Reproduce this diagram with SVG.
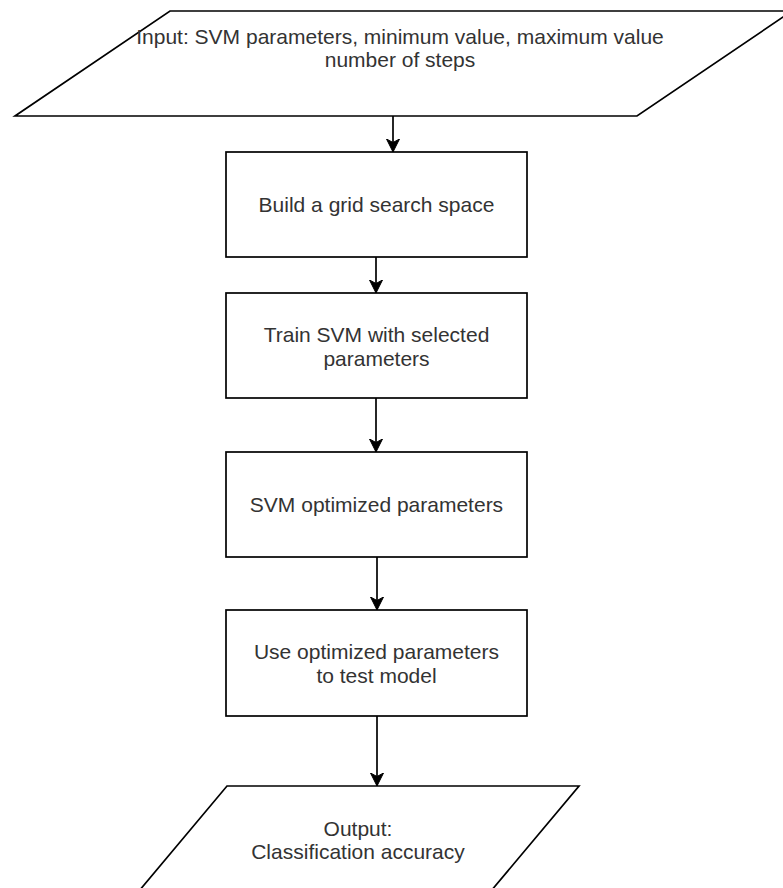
<svg xmlns="http://www.w3.org/2000/svg" width="783" height="888" viewBox="0 0 783 888">
  <style>
    .shape { fill: #ffffff; stroke: #000000; stroke-width: 1.7; }
    .label { font-family: "Liberation Sans", Arial, Helvetica, sans-serif; font-size: 21px; fill: #333333; text-anchor: middle; }
    .edge { fill: none; stroke: #000000; stroke-width: 1.7; }
  </style>
  <defs>
    <marker id="arrow" viewBox="0 0 14 14" refX="13" refY="7" markerWidth="14" markerHeight="14" markerUnits="userSpaceOnUse" orient="auto">
      <path d="M13,7 L0,0.5 L3.5,7 L0,13.5 Z" fill="#000000" stroke="#000000" stroke-width="1"/>
    </marker>
  </defs>
  <rect width="783" height="888" fill="#ffffff"/>

  <g id="input">
    <polygon class="shape" points="170,11 792,11 637,116 15,116"/>
    <text class="label" x="400" y="44">Input: SVM parameters, minimum value, maximum value</text>
    <text class="label" x="400" y="67">number of steps</text>
  </g>

  <g id="build-grid">
    <rect class="shape" x="226" y="152" width="301" height="105"/>
    <text class="label" x="376.5" y="212">Build a grid search space</text>
  </g>

  <g id="train-svm">
    <rect class="shape" x="226" y="293" width="301" height="105"/>
    <text class="label" x="376.5" y="341.5">Train SVM with selected</text>
    <text class="label" x="376.5" y="365.5">parameters</text>
  </g>

  <g id="optimized">
    <rect class="shape" x="226" y="452" width="301" height="105"/>
    <text class="label" x="376.5" y="512">SVM optimized parameters</text>
  </g>

  <g id="test-model">
    <rect class="shape" x="226" y="610" width="301" height="106"/>
    <text class="label" x="376.5" y="659">Use optimized parameters</text>
    <text class="label" x="376.5" y="683">to test model</text>
  </g>

  <g id="output">
    <polygon class="shape" points="227,786 579,786 491,891 139,891"/>
    <text class="label" x="358" y="835.5">Output:</text>
    <text class="label" x="358" y="858.5">Classification accuracy</text>
  </g>

  <g id="connectors">
    <line class="edge" x1="393" y1="116" x2="393" y2="152" marker-end="url(#arrow)"/>
    <line class="edge" x1="376" y1="257" x2="376" y2="293" marker-end="url(#arrow)"/>
    <line class="edge" x1="376" y1="398" x2="376" y2="452" marker-end="url(#arrow)"/>
    <line class="edge" x1="377" y1="557" x2="377" y2="610" marker-end="url(#arrow)"/>
    <line class="edge" x1="377" y1="716" x2="377" y2="786" marker-end="url(#arrow)"/>
  </g>
</svg>
